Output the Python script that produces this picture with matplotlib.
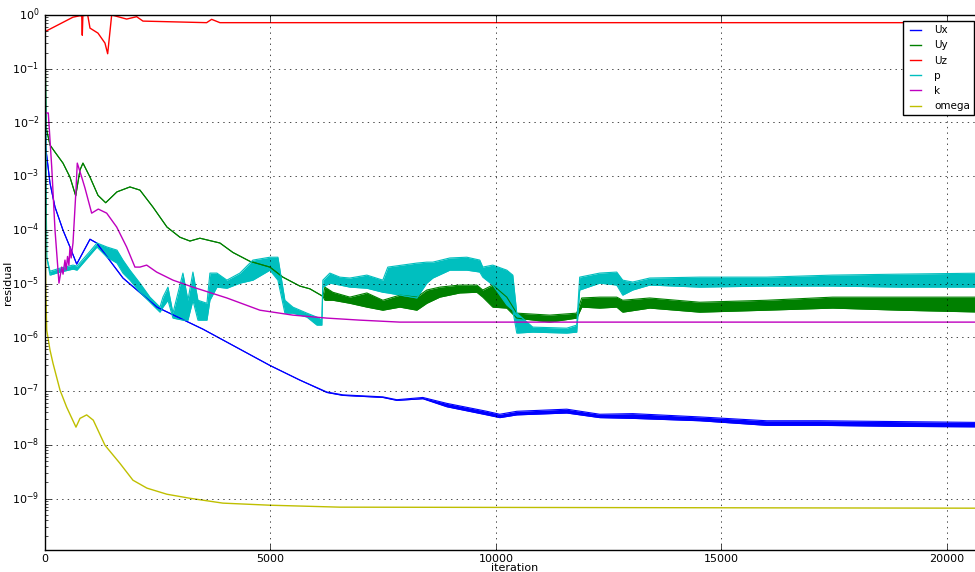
import numpy as np
import matplotlib
matplotlib.use('Agg')
import matplotlib.pyplot as plt

plt.style.use('classic')
plt.rcParams['font.family'] = ['Liberation Sans Narrow', 'DejaVu Sans']
plt.rcParams['mathtext.fontset'] = 'custom'
plt.rcParams['mathtext.rm'] = 'Liberation Sans Narrow'
plt.rcParams['mathtext.default'] = 'rm'

# residuals (iteration, value); noisy series as upper/lower envelope
ux_it = [0, 15, 111, 222, 399, 554, 703, 998, 1146, 1729, 2483, 3503, 4988, 5653, 6252, 6607,
         7493, 7804, 8380, 8912, 9799, 10087, 10464, 11573, 12305, 13036, 14521, 16007, 17182,
         18955, 20850]
ux_hi = [1.0, 3.5e-3, 7.4e-4, 2.66e-4, 9.9e-5, 4.8e-5, 2.31e-5, 6.7e-5, 5.7e-5, 1.27e-5, 3.65e-6,
         1.42e-6, 3.0e-7, 1.6e-7, 9.6e-8, 8.5e-8, 7.8e-8, 6.9e-8, 7.6e-8, 5.9e-8, 4.2e-8, 3.7e-8,
         4.2e-8, 4.6e-8, 3.7e-8, 3.8e-8, 3.3e-8, 2.8e-8, 2.8e-8, 2.7e-8, 2.6e-8]
ux_lo = [1.0, 3.5e-3, 7.4e-4, 2.66e-4, 9.9e-5, 4.8e-5, 2.31e-5, 6.7e-5, 5.7e-5, 1.27e-5, 3.65e-6,
         1.42e-6, 3.0e-7, 1.6e-7, 9.4e-8, 8.3e-8, 7.6e-8, 6.7e-8, 7.2e-8, 5.1e-8, 3.6e-8, 3.2e-8,
         3.6e-8, 3.9e-8, 3.2e-8, 3.1e-8, 2.8e-8, 2.3e-8, 2.3e-8, 2.2e-8, 2.15e-8]

uy_it = [0, 22, 111, 222, 399, 554, 681, 776, 842, 998, 1175, 1346, 1596, 1884, 2106, 2394, 2705,
         2993, 3215, 3436, 3880, 4168, 4545, 4988, 5276, 5653, 5875, 6163, 6208, 6385, 6762, 7139,
         7493, 7870, 8247, 8469, 8757, 9200, 9577, 9710, 9932, 10243, 10464, 11196, 11794, 11905,
         12304, 12681, 12814, 13413, 14521, 16007, 17470, 18955, 20850]
uy_hi = [1.0, 8.2e-3, 3.8e-3, 2.8e-3, 1.75e-3, 9.6e-4, 4.3e-4, 1.3e-3, 1.75e-3, 9.6e-4,
         4.4e-4, 3.2e-4, 5.1e-4, 6.3e-4, 5.5e-4, 2.66e-4, 1.13e-4, 7.3e-5, 6.2e-5, 7.0e-5,
         5.7e-5, 3.8e-5, 2.6e-5, 2.03e-5, 1.32e-5, 9.0e-6, 8.0e-6, 5.8e-6,
         8.6e-6, 6.9e-6, 5.6e-6, 6.7e-6, 4.9e-6, 6.1e-6, 5.6e-6, 7.6e-6, 8.6e-6, 9.4e-6,
         9.4e-6, 7.6e-6, 9.4e-6, 5.6e-6, 2.82e-6, 2.59e-6, 2.82e-6, 5.4e-6, 5.6e-6, 5.6e-6,
         4.9e-6, 5.4e-6, 4.5e-6, 4.9e-6, 5.6e-6, 5.6e-6, 5.6e-6]
uy_lo = [1.0, 8.2e-3, 3.8e-3, 2.8e-3, 1.75e-3, 9.6e-4, 4.3e-4, 1.3e-3, 1.75e-3, 9.6e-4,
         4.4e-4, 3.2e-4, 5.1e-4, 6.3e-4, 5.5e-4, 2.66e-4, 1.13e-4, 7.3e-5, 6.2e-5, 7.0e-5,
         5.7e-5, 3.8e-5, 2.6e-5, 2.03e-5, 1.32e-5, 9.0e-6, 8.0e-6, 5.8e-6,
         4.9e-6, 4.9e-6, 4.3e-6, 3.65e-6, 3.2e-6, 3.65e-6, 3.2e-6, 4.3e-6, 5.6e-6, 6.7e-6,
         6.9e-6, 5.6e-6, 3.65e-6, 3.5e-6, 2.28e-6, 1.92e-6, 2.28e-6, 3.65e-6, 3.5e-6, 3.65e-6,
         2.94e-6, 3.5e-6, 2.94e-6, 3.2e-6, 3.5e-6, 3.2e-6, 2.94e-6]

uz_it = [0, 620, 776, 815, 827, 840, 947, 998, 1175, 1330, 1390, 1479, 1811, 2033, 2173, 3585,
         3696, 3880, 20850]
uz_val = [0.49, 0.91, 0.97, 0.95, 0.42, 0.97, 1.0, 0.57, 0.46, 0.30, 0.19, 1.0, 0.84, 0.93, 0.77,
          0.72, 0.83, 0.72, 0.72]

p_it = [0, 38, 111, 333, 621, 709, 998, 1153, 1375, 1596, 1729, 1884, 2106, 2328, 2550, 2616,
        2727, 2838, 3059, 3170, 3281, 3392, 3592, 3658, 3813, 4035, 4323, 4611, 4988, 5166, 5321,
        5498, 5809, 6030, 6141, 6163, 6318, 6540, 6762, 7139, 7493, 7604, 8247, 8469, 8602, 8979,
        9356, 9644, 9710, 9932, 10243, 10376, 10464, 10819, 11573, 11794, 11860, 12304, 12681,
        12814, 13036, 13413, 14521, 16007, 17470, 18955, 20850]
p_hi = [1.0, 3.1e-5, 1.7e-5, 1.94e-5, 2.21e-5, 2.12e-5, 4.0e-5, 5.7e-5, 4.8e-5, 4.2e-5,
        2.74e-5, 1.78e-5, 1.02e-5, 5.6e-6, 3.65e-6, 5.6e-6, 8.6e-6, 2.82e-6, 1.57e-5, 4.9e-6,
        1.64e-5, 4.9e-6, 4.3e-6, 1.57e-5, 1.57e-5, 1.16e-5, 1.57e-5, 2.74e-5, 3.1e-5, 3.1e-5,
        4.9e-6, 3.65e-6, 2.82e-6, 2.38e-6, 2.09e-6, 1.16e-5, 1.57e-5, 1.32e-5, 1.27e-5, 1.44e-5,
        1.16e-5, 2.03e-5, 2.41e-5, 2.51e-5, 2.51e-5, 3.0e-5, 3.1e-5, 2.74e-5, 2.03e-5, 2.21e-5,
        1.78e-5, 1.44e-5, 2.82e-6, 1.55e-6, 1.48e-6, 1.69e-6, 1.32e-5, 1.57e-5, 1.64e-5, 1.16e-5,
        1.07e-5, 1.27e-5, 1.32e-5, 1.32e-5, 1.44e-5, 1.50e-5, 1.57e-5]
p_lo = [1.0, 3.1e-5, 1.44e-5, 1.64e-5, 1.86e-5, 1.78e-5, 3.4e-5, 4.8e-5, 3.1e-5, 2.41e-5,
        1.57e-5, 1.16e-5, 6.9e-6, 4.5e-6, 2.94e-6, 3.65e-6, 4.9e-6, 2.28e-6, 2.09e-6, 2.09e-6,
        4.9e-6, 2.09e-6, 2.09e-6, 4.9e-6, 8.6e-6, 8.2e-6, 1.02e-5, 1.16e-5, 1.78e-5, 1.16e-5,
        2.82e-6, 2.82e-6, 2.38e-6, 1.69e-6, 1.69e-6, 8.6e-6, 1.02e-5, 9.4e-6, 8.6e-6, 8.2e-6,
        6.9e-6, 6.7e-6, 5.4e-6, 1.02e-5, 1.27e-5, 1.78e-5, 1.78e-5, 1.64e-5, 1.32e-5, 9.4e-6,
        4.0e-6, 3.2e-6, 1.20e-6, 1.25e-6, 1.20e-6, 1.25e-6, 7.6e-6, 1.02e-5, 9.4e-6, 6.1e-6,
        7.6e-6, 9.4e-6, 8.6e-6, 9.0e-6, 9.0e-6, 8.6e-6, 8.6e-6]

k_it = [0, 22, 73, 149, 222, 310, 370, 400, 443, 470, 500, 530, 554, 580, 621, 687, 716, 814, 887,
        1035, 1182, 1368, 1590, 1811, 1995, 2106, 2255, 2476, 2838, 3281, 4035, 4767, 5498, 6252,
        6984, 7870, 20850]
k_val = [1.5e-2, 1.5e-2, 1.5e-2, 1.48e-3, 9.9e-5, 1.02e-5, 2.03e-5, 1.5e-5, 2.74e-5, 1.8e-5,
         3.2e-5, 2.2e-5, 4.8e-5, 3.0e-5, 5.7e-5, 5.5e-4, 1.75e-3, 9.6e-4, 6.0e-4, 2.05e-4,
         2.44e-4, 2.05e-4, 1.13e-4, 4.8e-5, 2.03e-5, 2.03e-5, 2.21e-5, 1.64e-5, 1.16e-5, 8.6e-6,
         5.4e-6, 3.2e-6, 2.59e-6, 2.28e-6, 2.09e-6, 1.92e-6, 1.92e-6]

om_it = [0, 15, 38, 111, 177, 333, 481, 687, 776, 924, 1071, 1330, 1663, 1951, 2261, 2705, 3215,
         3946, 4988, 6540, 20850]
om_val = [1.0, 1e-5, 1.36e-6, 5.8e-7, 3.3e-7, 1.04e-7, 5.0e-8, 2.13e-8, 3.1e-8, 3.6e-8, 2.87e-8,
          9.8e-9, 4.5e-9, 2.19e-9, 1.56e-9, 1.2e-9, 1.01e-9, 8.2e-10, 7.5e-10, 6.9e-10, 6.6e-10]

fig = plt.figure(figsize=(9.75, 5.72), dpi=100, facecolor='white')
# axes runs past the right edge, like the cropped original
ax = fig.add_axes([45 / 975, 22 / 572, 940 / 975, 535 / 572])


def band(it, hi, lo, color, label):
    ax.fill_between(it, lo, hi, color=color, linewidth=0)
    ax.plot(it, hi, color=color, label=label, linewidth=0.8)
    ax.plot(it, lo, color=color, linewidth=0.8)


band(ux_it, ux_hi, ux_lo, 'b', 'Ux')
band(uy_it, uy_hi, uy_lo, 'g', 'Uy')
ax.plot(uz_it, uz_val, color='r', label='Uz')
band(p_it, p_hi, p_lo, 'c', 'p')
ax.plot(k_it, k_val, color='m', label='k')
ax.plot(om_it, om_val, color='y', label='omega')

ax.set_yscale('log')
ax.set_xlim(0, 20850)
ax.set_ylim(1.1e-10, 1)
ax.set_xticks([0, 5000, 10000, 15000, 20000])
ax.grid(True)
ax.tick_params(axis='x', labelsize=8, pad=3)
ax.tick_params(axis='y', labelsize=8, pad=4)
ax.set_xlabel('iteration', fontsize=8)
ax.set_ylabel('residual', fontsize=8)
ax.xaxis.set_label_coords(0.5, -0.024)
ax.yaxis.set_label_coords(-0.034, 0.5)

leg = ax.legend(loc='upper left', bbox_to_anchor=(903 / 975, 1 - 21 / 572),
                bbox_transform=fig.transFigure, borderaxespad=0,
                prop={'family': 'DejaVu Sans', 'size': 7.5},
                handlelength=1.6, handletextpad=1.0, fancybox=False)
for line in leg.get_lines():
    line.set_linewidth(1.0)

fig.savefig('out.png', dpi=100, facecolor='white')
